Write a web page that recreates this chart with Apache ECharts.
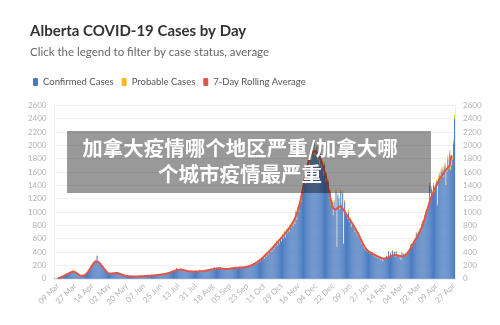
<!DOCTYPE html>
<html>
<head>
<meta charset="utf-8">
<script src="https://cdn.jsdelivr.net/npm/echarts@6/dist/echarts.min.js"></script>
<style>
html,body{margin:0;padding:0;background:#fff;}
#chart{width:500px;height:325px;}
</style>
</head>
<body>
<div id="chart"></div>
<script>
// Daily series start on 06 Mar 2020 (one value per day, rows = weeks)
const startDate = '2020-03-06';
const tickStartIndex = 3;   // 09 Mar
const tickStep = 18;        // days between x labels
const yTicks = [0,200,400,600,800,1000,1200,1400,1600,1800,2000,2200,2400,2600];

const confirmed = [
  2,3,5,8,10,14,18,
  22,28,35,45,52,58,65,
  72,75,82,95,100,108,98,
  92,80,68,55,45,40,38,
  42,38,50,58,65,80,95,
  118,140,160,185,210,230,250,
  275,260,340,265,245,220,230,
  200,180,160,140,125,112,95,
  82,85,70,65,90,80,75,
  95,88,72,80,75,70,60,
  58,50,45,48,40,38,42,
  35,30,36,32,38,30,28,
  35,33,30,38,36,32,40,
  34,35,42,38,36,44,40,
  46,48,42,50,44,52,48,
  55,50,58,54,62,60,58,
  70,62,75,68,72,80,85,
  78,95,90,105,98,115,120,
  110,160,130,125,145,140,150,
  125,120,135,110,125,115,100,
  120,105,95,125,100,115,95,
  120,100,110,115,130,98,105,
  110,115,125,108,120,135,115,
  125,140,130,145,128,150,170,
  140,160,148,165,150,175,145,
  160,140,150,135,155,140,150,
  145,160,150,165,155,170,160,
  175,150,170,165,180,160,175,
  165,185,170,160,180,170,190,
  175,200,185,210,195,230,205,
  250,220,270,240,290,260,310,
  290,340,300,365,330,390,360,
  420,395,440,410,470,445,520,
  480,560,500,580,530,610,560,
  650,600,700,620,730,680,760,
  700,800,760,830,790,880,820,
  1000,880,1050,1000,1120,1200,1150,
  1350,1300,1500,1420,1650,1600,1780,
  1700,1850,1780,1950,1880,2050,1850,
  1900,1980,1780,1850,1700,1880,1650,
  1720,1550,1700,1450,1550,1380,1450,
  1200,1300,1100,1150,950,1150,1050,
  1300,480,1250,1200,1050,1300,1100,
  1280,520,1150,1000,950,900,1000,
  850,900,780,820,800,750,700,
  740,650,680,620,600,560,520,
  500,470,450,430,440,400,420,
  380,400,370,390,350,370,330,
  360,310,340,300,320,280,310,
  260,300,290,320,340,300,410,
  330,380,350,420,360,400,330,
  410,360,350,320,330,280,390,
  340,370,360,380,350,400,420,
  420,500,520,480,560,580,550,
  680,640,700,680,740,720,820,
  860,850,950,1000,1020,1050,1100,
  1400,1150,1350,1250,1400,1300,1380,
  1450,1100,1500,1550,1480,1600,1630,
  1520,1650,1700,1400,1600,1800,1650,
  1880,1630,1700,1780,2030,2400
];

const probable = [
  0,0,0,0,0,1,1,
  1,2,2,3,3,4,4,
  4,6,8,12,20,30,25,
  15,10,6,4,3,2,2,
  2,1,2,3,2,3,4,
  3,4,5,4,6,5,6,
  8,6,10,7,6,5,4,
  5,4,3,3,2,3,2,
  2,3,2,2,3,2,2,
  2,2,1,2,2,1,1,
  1,1,1,1,0,1,1,
  0,1,0,1,1,0,1,
  1,0,1,1,0,1,1,
  1,1,0,1,1,1,0,
  1,1,1,0,1,1,1,
  1,2,1,1,2,1,2,
  2,1,2,2,1,2,2,
  2,3,2,3,2,3,3,
  3,4,3,3,4,3,3,
  3,2,3,2,3,2,2,
  3,2,2,3,2,3,2,
  3,2,2,3,3,2,2,
  2,3,3,2,3,3,2,
  3,3,3,4,3,4,4,
  3,4,3,4,3,4,3,
  4,3,3,3,4,3,3,
  3,4,3,4,4,4,4,
  4,3,4,4,4,3,4,
  4,4,4,3,4,4,5,
  4,5,4,5,5,6,5,
  6,5,7,6,7,6,8,
  7,8,7,9,8,10,9,
  10,9,11,10,12,11,13,
  12,14,12,15,13,15,14,
  16,15,18,16,18,17,19,
  18,20,19,21,20,22,21,
  25,22,26,25,28,30,29,
  34,32,38,36,41,40,45,
  42,46,45,49,47,51,46,
  48,50,45,46,43,47,41,
  43,39,42,36,39,34,36,
  30,32,28,29,24,29,26,
  32,12,31,30,26,32,27,
  32,13,29,25,24,22,25,
  21,22,20,21,20,19,18,
  18,16,17,15,15,14,13,
  12,12,11,11,11,10,10,
  10,10,9,10,9,9,8,
  9,8,8,7,8,7,8,
  6,7,7,8,8,7,10,
  8,9,9,10,9,10,8,
  10,9,9,8,8,7,10,
  9,10,9,10,9,10,11,
  11,13,13,12,14,15,14,
  17,16,18,17,19,18,21,
  22,21,24,25,26,26,28,
  35,29,34,31,35,33,35,
  36,28,38,39,37,40,41,
  38,41,43,35,40,45,41,
  47,41,43,45,51,58
];

// Centred 7-day rolling average (null where the window is incomplete)
const rollingAvg = [
  null,null,null,8,11,15,20,
  26,33,41,49,56,63,70,
  77,84,91,97,101,103,102,
  98,90,80,69,58,50,45,
  44,45,48,54,62,75,92,
  112,135,158,180,202,222,240,
  252,258,258,252,242,228,212,
  195,176,157,138,120,104,90,
  80,78,76,76,78,80,82,
  84,85,84,82,78,73,68,
  62,56,51,47,44,41,39,
  37,36,35,34,34,33,33,
  33,33,34,34,35,35,36,
  37,38,39,40,41,42,43,
  44,45,46,47,48,49,50,
  51,52,54,56,58,60,62,
  64,66,68,71,74,78,82,
  86,90,95,100,106,112,118,
  123,127,130,132,133,134,134,
  133,131,128,124,120,116,113,
  111,110,109,108,108,108,107,
  107,107,108,108,109,110,111,
  112,114,116,118,120,123,126,
  129,132,135,138,141,144,147,
  150,152,154,155,155,154,152,
  150,148,146,145,145,146,147,
  148,150,152,154,156,158,160,
  162,163,164,165,166,167,168,
  168,169,170,172,175,178,182,
  187,192,198,204,210,218,226,
  234,243,252,262,273,285,297,
  310,324,338,352,366,380,395,
  410,425,440,455,470,486,502,
  518,534,550,566,582,598,614,
  630,646,662,680,698,716,735,
  755,775,797,820,845,872,900,
  935,975,1020,1070,1125,1185,1250,
  1320,1390,1470,1545,1615,1680,1740,
  1790,1830,1862,1885,1900,1910,1912,
  1905,1890,1870,1845,1815,1780,1742,
  1700,1655,1605,1550,1490,1425,1355,
  1285,1215,1150,1095,1060,1045,1040,
  1042,1050,1062,1075,1082,1080,1068,
  1050,1030,1008,985,962,940,918,
  896,874,852,830,806,782,757,
  731,705,678,650,620,588,560,
  530,502,478,458,440,425,412,
  401,391,382,374,367,360,353,
  346,339,332,325,318,312,307,
  304,302,302,304,308,314,321,
  328,335,341,346,350,352,353,
  352,350,347,344,341,338,336,
  336,338,345,356,370,388,408,
  430,455,480,505,530,555,580,
  605,630,655,682,712,745,782,
  822,865,910,958,1008,1058,1105,
  1150,1192,1232,1270,1305,1338,1370,
  1400,1428,1455,1480,1505,1528,1550,
  1572,1592,1612,1632,1650,1665,1680,
  1700,1780,1850,null,null,null
];

const months = ['Jan','Feb','Mar','Apr','May','Jun','Jul','Aug','Sep','Oct','Nov','Dec'];
const categories = [];
(function(){
  const d0 = new Date(startDate + 'T00:00:00Z');
  for (let i = 0; i < confirmed.length; i++) {
    const d = new Date(d0.getTime() + i * 86400000);
    const dd = String(d.getUTCDate()).padStart(2,'0');
    categories.push(dd + ' ' + months[d.getUTCMonth()]);
  }
})();

const chart = echarts.init(document.getElementById('chart'), null, {renderer:'canvas'});
const FONT = 'Lato, "Noto Sans", sans-serif';
const yLabel = {color:'#b3b3b3', fontSize:8, fontFamily:FONT, formatter:function(v){ return String(v); }};

chart.setOption({
  animation:false,
  backgroundColor:'#ffffff',
  title:{
    text:'Alberta COVID-19 Cases by Day',
    subtext:'Click the legend to filter by case status, average',
    left:25, top:19, itemGap:7,
    textStyle:{fontSize:15, fontWeight:'bold', color:'#333', fontFamily:FONT},
    subtextStyle:{fontSize:11.5, color:'#666', fontFamily:FONT}
  },
  legend:{
    left:28, top:72, itemWidth:5, itemHeight:8, itemGap:8,
    icon:'roundRect',
    textStyle:{fontSize:9.5, color:'#555', fontFamily:FONT},
    data:['Confirmed Cases','Probable Cases','7-Day Rolling Average']
  },
  grid:{left:54.5, right:45, top:105.3, bottom:46.3, containLabel:false},
  xAxis:{
    type:'category', data:categories, boundaryGap:true,
    axisTick:{show:false},
    axisLine:{lineStyle:{color:'#ececec', width:3}},
    axisLabel:{
      color:'#b3b3b3', fontSize:8, fontFamily:FONT,
      rotate:45, margin:6,
      interval:function(idx){ return idx >= tickStartIndex && (idx - tickStartIndex) % tickStep === 0; }
    }
  },
  yAxis:[
    {type:'value', min:yTicks[0], max:yTicks[yTicks.length-1], interval:200, position:'left',
     axisLine:{show:true, lineStyle:{color:'#eeeeee'}}, axisTick:{show:false},
     splitLine:{lineStyle:{color:'#f0f0f0'}}, axisLabel:yLabel},
    {type:'value', min:yTicks[0], max:yTicks[yTicks.length-1], interval:200, position:'right',
     axisLine:{show:true, lineStyle:{color:'#eeeeee'}}, axisTick:{show:false},
     splitLine:{show:false}, axisLabel:yLabel}
  ],
  series:[
    {name:'Confirmed Cases', type:'bar', stack:'cases', data:confirmed,
     barCategoryGap:'15%', itemStyle:{color:'#4a7bc0'}, z:2},
    {name:'Probable Cases', type:'bar', stack:'cases', data:probable,
     itemStyle:{color:'#f6b81a'}, z:2},
    {name:'7-Day Rolling Average', type:'line', data:rollingAvg,
     showSymbol:false, symbol:'none', smooth:0.3, connectNulls:false,
     lineStyle:{color:'#e0554a', width:2}, itemStyle:{color:'#e0554a'}, z:3}
  ],
  graphic:[
    {type:'rect', left:67, top:131, z:100,
     shape:{width:364, height:62}, style:{fill:'rgba(0,0,0,0.4)'}},
    {type:'text', x:240, y:148.5, z:101,
     style:{text:'加拿大疫情哪个地区严重/加拿大哪', fill:'#ffffff', align:'center', verticalAlign:'middle',
            font:'bold 20.5px "Noto Sans CJK SC", sans-serif'}},
    {type:'text', x:240, y:174.5, z:101,
     style:{text:'个城市疫情最严重', fill:'#ffffff', align:'center', verticalAlign:'middle',
            font:'bold 20.5px "Noto Sans CJK SC", sans-serif'}}
  ]
});
</script>
</body>
</html>
